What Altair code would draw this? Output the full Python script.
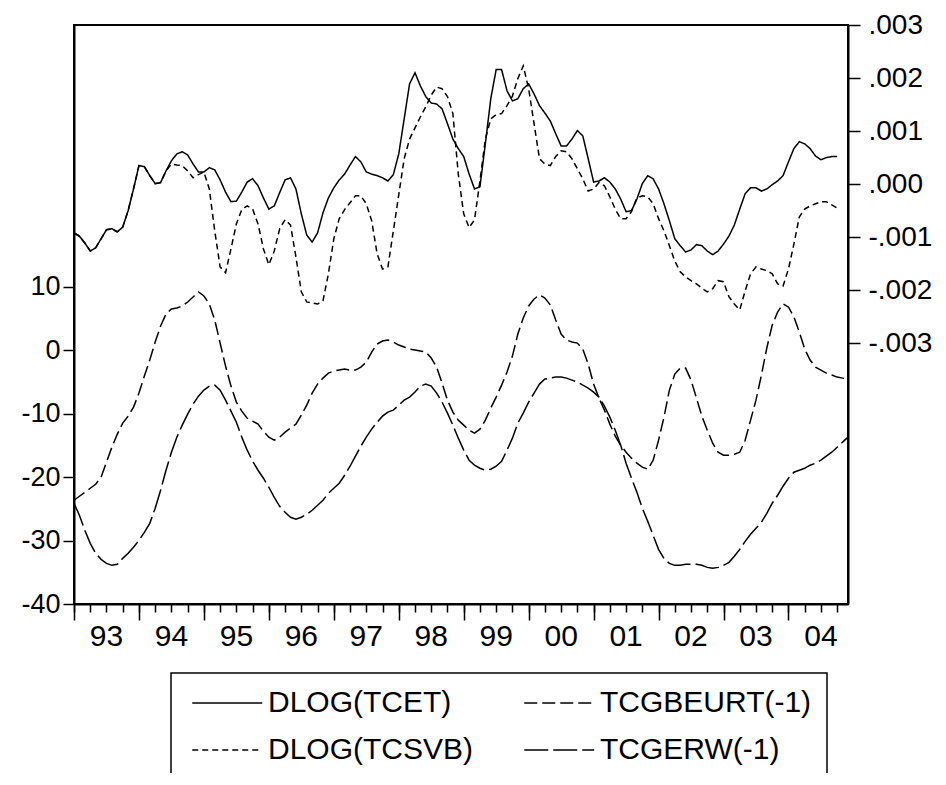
import altair as alt
import pandas as pd

# ---- data (monthly, 1993M01 .. 2004M12) ----
tcet = [
    -0.00092, -0.00098, -0.00111, -0.00126, -0.00120, -0.00103, -0.00086, -0.00084, -0.00090, -0.00081, -0.00050, -0.00009,
    0.00035, 0.00033, 0.00016, 0.00001, 0.00003, 0.00025, 0.00044, 0.00057, 0.00061, 0.00055, 0.00038, 0.00023,
    0.00023, 0.00031, 0.00027, 0.00008, -0.00015, -0.00033, -0.00032, -0.00015, 0.00004, 0.00010, -0.00003, -0.00026,
    -0.00047, -0.00041, -0.00016, 0.00008, 0.00012, -0.00009, -0.00056, -0.00096, -0.00109, -0.00092, -0.00054, -0.00026,
    -0.00007, 0.00008, 0.00019, 0.00036, 0.00052, 0.00042, 0.00023, 0.00019, 0.00016, 0.00012, 0.00006, 0.00018,
    0.00057, 0.00123, 0.00189, 0.00210, 0.00185, 0.00165, 0.00153, 0.00151, 0.00142, 0.00114, 0.00085, 0.00067,
    0.00052, 0.00019, -0.00009, -0.00005, 0.00076, 0.00161, 0.00216, 0.00216, 0.00176, 0.00157, 0.00161, 0.00180,
    0.00189, 0.00170, 0.00148, 0.00134, 0.00119, 0.00095, 0.00072, 0.00072, 0.00085, 0.00101, 0.00091, 0.00048,
    0.00004, 0.00006, 0.00012, 0.00004, -0.00009, -0.00028, -0.00052, -0.00050, -0.00028, 0.00001, 0.00016, 0.00010,
    -0.00009, -0.00037, -0.00069, -0.00103, -0.00116, -0.00128, -0.00124, -0.00114, -0.00116, -0.00126, -0.00133, -0.00126,
    -0.00113, -0.00098, -0.00077, -0.00047, -0.00018, -0.00007, -0.00007, -0.00013, -0.00009, -0.00001, 0.00006, 0.00016,
    0.00042, 0.00067, 0.00080, 0.00076, 0.00067, 0.00053, 0.00046, 0.00050, 0.00052, 0.00052,
]
tcsvb = [
    -0.00092, -0.00098, -0.00111, -0.00126, -0.00120, -0.00103, -0.00086, -0.00084, -0.00090, -0.00081, -0.00050, -0.00009,
    0.00035, 0.00033, 0.00016, 0.00001, 0.00003, 0.00025, 0.00038, 0.00036, 0.00035, 0.00025, 0.00012, 0.00018,
    0.00023, -0.00009, -0.00088, -0.00156, -0.00167, -0.00122, -0.00075, -0.00048, -0.00041, -0.00047, -0.00075, -0.00122,
    -0.00152, -0.00126, -0.00084, -0.00067, -0.00077, -0.00137, -0.00203, -0.00222, -0.00224, -0.00226, -0.00220, -0.00169,
    -0.00103, -0.00065, -0.00048, -0.00035, -0.00022, -0.00022, -0.00037, -0.00069, -0.00131, -0.00160, -0.00156, -0.00088,
    -0.00020, 0.00048, 0.00085, 0.00106, 0.00127, 0.00146, 0.00168, 0.00183, 0.00180, 0.00165, 0.00133, 0.00019,
    -0.00056, -0.00082, -0.00067, 0.00006, 0.00085, 0.00123, 0.00131, 0.00133, 0.00148, 0.00166, 0.00199, 0.00223,
    0.00180, 0.00114, 0.00048, 0.00038, 0.00035, 0.00052, 0.00063, 0.00061, 0.00048, 0.00029, 0.00010, -0.00013,
    -0.00009, 0.00003, -0.00003, -0.00024, -0.00047, -0.00065, -0.00065, -0.00052, -0.00026, -0.00022, -0.00024, -0.00037,
    -0.00065, -0.00088, -0.00116, -0.00145, -0.00165, -0.00175, -0.00182, -0.00188, -0.00196, -0.00203, -0.00197, -0.00182,
    -0.00184, -0.00212, -0.00226, -0.00237, -0.00201, -0.00169, -0.00156, -0.00160, -0.00163, -0.00169, -0.00188, -0.00192,
    -0.00160, -0.00113, -0.00062, -0.00047, -0.00041, -0.00037, -0.00033, -0.00033, -0.00039, -0.00045,
]
tcgbeurt = [
    -23.66, -23.03, -22.40, -21.77, -21.14, -20.03, -17.67, -15.30, -13.25, -11.51, -10.41, -8.99,
    -6.78, -4.10, -1.58, 1.26, 3.79, 5.68, 6.47, 6.62, 6.94, 7.57, 8.36, 9.15,
    8.52, 7.26, 4.73, 1.10, -2.52, -5.68, -8.20, -9.62, -10.73, -11.20, -11.67, -12.78,
    -13.72, -14.20, -13.72, -12.93, -12.30, -11.67, -10.25, -8.68, -6.78, -5.36, -4.42, -3.63,
    -3.31, -3.15, -3.00, -3.15, -3.15, -2.68, -1.89, -0.32, 0.95, 1.42, 1.58, 1.26,
    0.79, 0.47, 0.16, 0.00, -0.16, -0.32, -1.26, -2.68, -5.21, -7.89, -9.78, -11.04,
    -11.83, -12.62, -13.09, -12.46, -11.04, -9.15, -7.41, -5.52, -3.47, -0.95, 2.52, 5.05,
    6.94, 8.04, 8.68, 8.20, 7.10, 4.73, 2.52, 1.58, 1.26, 1.10, 0.16, -2.21,
    -5.36, -7.57, -9.46, -11.67, -13.56, -14.98, -16.09, -17.03, -17.82, -18.45, -18.77, -17.35,
    -14.20, -10.57, -6.31, -3.79, -2.84, -2.84, -4.73, -7.57, -10.41, -12.62, -14.67, -16.09,
    -16.56, -16.56, -16.40, -16.09, -14.20, -11.04, -7.89, -3.94, 0.32, 3.94, 5.99, 7.26,
    6.78, 5.21, 2.84, 0.16, -1.58, -2.68, -3.15, -3.63, -3.94, -4.26, -4.42, -4.57,
]
tcgerw = [
    -24.13, -26.03, -28.39, -30.44, -32.02, -32.97, -33.60, -33.91, -33.75, -32.81, -32.02, -31.07,
    -29.97, -28.71, -27.29, -24.92, -22.08, -18.93, -16.09, -13.72, -11.83, -10.09, -8.52, -7.26,
    -6.31, -5.68, -5.52, -6.31, -7.89, -9.62, -11.36, -13.72, -15.77, -17.51, -18.93, -20.19,
    -21.61, -23.19, -24.61, -25.55, -26.34, -26.66, -26.34, -25.87, -25.24, -24.45, -23.66, -22.56,
    -21.77, -20.98, -19.72, -18.30, -16.72, -15.14, -13.72, -12.46, -11.36, -10.41, -9.78, -9.46,
    -8.68, -7.89, -7.41, -6.62, -5.68, -5.36, -5.68, -6.78, -8.20, -9.94, -11.83, -13.88,
    -15.77, -17.35, -18.14, -18.61, -18.93, -18.77, -18.30, -17.51, -15.77, -13.88, -11.51, -9.94,
    -8.20, -6.78, -5.36, -4.57, -4.42, -4.26, -4.26, -4.42, -4.73, -5.05, -5.52, -5.99,
    -6.62, -7.41, -8.83, -10.57, -12.62, -14.98, -17.82, -20.19, -22.40, -24.92, -26.97, -29.18,
    -31.39, -32.81, -33.60, -33.91, -33.91, -33.75, -33.75, -33.75, -33.91, -34.23, -34.38, -34.23,
    -33.91, -33.44, -32.49, -31.39, -30.13, -29.02, -28.08, -27.13, -25.71, -24.13, -22.87, -21.45,
    -20.19, -19.24, -18.93, -18.61, -18.14, -17.82, -17.35, -16.72, -16.09, -15.30, -14.51, -13.72,
]

# legend entries are laid out column by column: column 1 = DLOG series
series_names = ["DLOG(TCET)", "DLOG(TCSVB)", "TCGBEURT(-1)", "TCGERW(-1)"]
dash_styles = [[1, 0], [6, 4], [13, 5], [24, 5]]

left_ticks = [-40, -30, -20, -10, 0, 10]
right_ticks = [-0.003, -0.002, -0.001, 0.0, 0.001, 0.002, 0.003]
year_ticks = list(range(1993, 2005))
quarter_ticks = [y + q / 4 for y in range(1993, 2005) for q in range(4)]

# ---- build tables ----
months = pd.period_range("1993-01", "2004-12", freq="M")
t = [p.year + (p.month - 1) / 12 for p in months]


def frame(vals, name):
    return pd.DataFrame({"t": t[: len(vals)], "value": vals, "series": name})


right_df = pd.concat([frame(tcsvb, "DLOG(TCSVB)"), frame(tcet, "DLOG(TCET)")])
left_df = pd.concat([frame(tcgbeurt, "TCGBEURT(-1)"), frame(tcgerw, "TCGERW(-1)")])

FONT = "Liberation Sans"
x_scale = alt.Scale(domain=[1993, 1993 + 143 / 12], nice=False, zero=False)

dash_enc = alt.StrokeDash(
    "series:N",
    scale=alt.Scale(domain=series_names, range=dash_styles),
    legend=alt.Legend(
        title=None,
        values=series_names,
        orient="none",
        legendX=97,
        legendY=648,
        columns=2,
        symbolType="M-1,0H7",
        symbolSize=306,
        symbolStrokeWidth=1.5,
        symbolStrokeColor="black",
        labelFont=FONT,
        labelFontSize=30,
        labelColor="black",
        labelOffset=52,
        columnPadding=44,
        rowPadding=17,
        padding=15,
        strokeColor="black",
        labelLimit=400,
    ),
)

left = alt.Chart(left_df).mark_line(color="black", strokeWidth=1.5).encode(
    x=alt.X(
        "t:Q",
        scale=x_scale,
        axis=alt.Axis(
            orient="bottom", values=quarter_ticks, labels=False, tickSize=8,
            tickWidth=1.5, domainWidth=2, title=None, grid=False,
        ),
    ),
    y=alt.Y(
        "value:Q",
        scale=alt.Scale(domain=[-40, 51.2], nice=False, zero=False),
        axis=alt.Axis(
            orient="left", values=left_ticks, tickSize=11, tickWidth=1.5,
            labelPadding=3, labelFontSize=27, labelAlign="right",
            labelExpr="(datum.value < 0 ? '-' : '') + format(abs(datum.value), 'd')",
            domainWidth=2, title=None, grid=False,
        ),
    ),
    strokeDash=dash_enc,
    detail="series:N",
)

right = alt.Chart(right_df).mark_line(color="black", strokeWidth=1.5).encode(
    x=alt.X(
        "t:Q",
        scale=x_scale,
        axis=alt.Axis(
            orient="bottom", values=year_ticks, tickSize=16, tickWidth=1.5,
            labelExpr="substring(toString(datum.value), 2)", labelOffset=32,
            labelFontSize=30, labelPadding=1, labelFlush=False, labelOverlap=False,
            domain=False, title=None, grid=False,
        ),
    ),
    y=alt.Y(
        "value:Q",
        scale=alt.Scale(domain=[-0.007914, 0.003], nice=False, zero=False),
        axis=alt.Axis(
            orient="right", values=right_ticks, tickSize=12, tickWidth=1.5,
            labelPadding=8, labelFontSize=28, labelAlign="left",
            domainWidth=2, title=None, grid=False,
            labelExpr="(datum.value < -0.0000001 ? '-' : '') + replace(format(abs(datum.value), '.3f'), '0.', '.')",
        ),
    ),
    strokeDash=dash_enc,
    detail="series:N",
)

chart = (
    alt.layer(left, right)
    .resolve_scale(y="independent", strokeDash="shared")
    .resolve_axis(x="independent", y="independent")
    .properties(
        width=774,
        height=579,
        autosize=alt.AutoSizeParams(type="none"),
        padding={"left": 66, "top": 17, "right": 90, "bottom": 169},
        background="white",
    )
    .configure_view(stroke="black", strokeWidth=2)
    .configure_axis(
        labelFont=FONT, labelColor="black", tickColor="black", domainColor="black",
    )
    .configure_legend(strokeWidth=1.5)
)

chart.save("out.html", embed_options={"renderer": "svg", "actions": False})
